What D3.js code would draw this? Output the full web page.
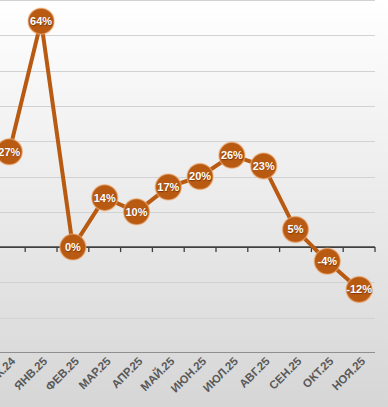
<!DOCTYPE html>
<html>
<head>
<meta charset="utf-8">
<script src="https://cdn.jsdelivr.net/npm/d3@7"></script>
<style>
html,body{margin:0;padding:0;overflow:hidden;}
svg{display:block;}
</style>
</head>
<body>
<svg id="chart" width="388" height="407"></svg>
<script>
const categories = ["ДЕК.24","ЯНВ.25","ФЕВ.25","МАР.25","АПР.25","МАЙ.25","ИЮН.25","ИЮЛ.25","АВГ.25","СЕН.25","ОКТ.25","НОЯ.25"];
const values = [27, 64, 0, 14, 10, 17, 20, 26, 23, 5, -4, -12];
const gridTicks = [-30, -20, -10, 0, 10, 20, 30, 40, 50, 60, 70];

const W = 388, H = 407;
const svg = d3.select("#chart");
const defs = svg.append("defs");
const grad = defs.append("linearGradient").attr("id","bg").attr("x1",0).attr("y1",0).attr("x2",0).attr("y2",1);
grad.append("stop").attr("offset","0%").attr("stop-color","#ffffff");
grad.append("stop").attr("offset","100%").attr("stop-color","#d6d6d6");
svg.append("rect").attr("width",W).attr("height",H).attr("fill","url(#bg)");

const plotRight = 375;
const bandW = 31.8;
const x = d3.scaleBand().domain(categories).range([plotRight - bandW*categories.length, plotRight]);
const y = d3.scaleLinear().domain([-30, 70]).range([353, 0]);
const cx = d => x(d) + x.bandwidth()/2;
const xLeft = 0;

// gridlines
svg.append("g").selectAll("line").data(gridTicks.filter(t => t !== 0 && t !== -30)).join("line")
  .attr("x1", xLeft).attr("x2", plotRight)
  .attr("y1", d => Math.round(y(d))+0.5).attr("y2", d => Math.round(y(d))+0.5)
  .attr("stroke","#d2d2d2").attr("stroke-width",1);

// bottom border line
svg.append("line").attr("x1", xLeft).attr("x2", plotRight)
  .attr("y1", Math.round(y(-30))-0.5).attr("y2", Math.round(y(-30))-0.5)
  .attr("stroke","#8f8f8f").attr("stroke-width",1);

// zero axis with ticks between categories
const axis = d3.axisBottom(x).tickSize(0).tickFormat("");
const gAxis = svg.append("g").attr("transform", `translate(0,${y(0)})`).call(axis);
gAxis.select(".domain").remove();
gAxis.append("line").attr("x1", xLeft).attr("x2", plotRight).attr("y1",0).attr("y2",0)
  .attr("stroke","#3f3f3f").attr("stroke-width",1.6);
const edges = categories.map(c => x(c)).concat([plotRight]);
gAxis.selectAll(".edge").data(edges).join("line").attr("class","edge")
  .attr("x1", d => d).attr("x2", d => d).attr("y1", 0).attr("y2", 5)
  .attr("stroke","#3f3f3f").attr("stroke-width",1.3);

// category labels (rotated, below plot area)
svg.append("g").selectAll("text").data(categories).join("text")
  .attr("transform", d => `translate(${cx(d)+4},${y(-30)+6}) rotate(-45)`)
  .attr("text-anchor","end").attr("dy","0.35em")
  .attr("font-family","'Liberation Sans', Arial, sans-serif")
  .attr("font-size","11.5px").attr("font-weight","bold")
  .attr("fill","#595959")
  .text(d => d);

const color = "#b85a12";
const data = categories.map((c,i) => ({c, v: values[i]}));

// line
svg.append("path").datum(data)
  .attr("d", d3.line().x(d => cx(d.c)).y(d => y(d.v)))
  .attr("fill","none").attr("stroke", color).attr("stroke-width",4).attr("stroke-linejoin","round");

// markers
svg.append("g").selectAll("circle").data(data).join("circle")
  .attr("cx", d => cx(d.c)).attr("cy", d => y(d.v)).attr("r", 13)
  .attr("fill", color).attr("stroke","rgba(240,175,120,0.55)").attr("stroke-width",1.5);

// data labels
svg.append("g").selectAll("text").data(data).join("text")
  .attr("x", d => cx(d.c)).attr("y", d => y(d.v)).attr("dy","0.36em")
  .attr("text-anchor","middle")
  .attr("font-family","'Liberation Sans', Arial, sans-serif")
  .attr("font-size","11px").attr("font-weight","bold")
  .attr("fill","#ffffff")
  .style("text-shadow","0.5px 0.5px 1px rgba(80,30,0,0.6)")
  .text(d => d.v + "%");
</script>
</body>
</html>
